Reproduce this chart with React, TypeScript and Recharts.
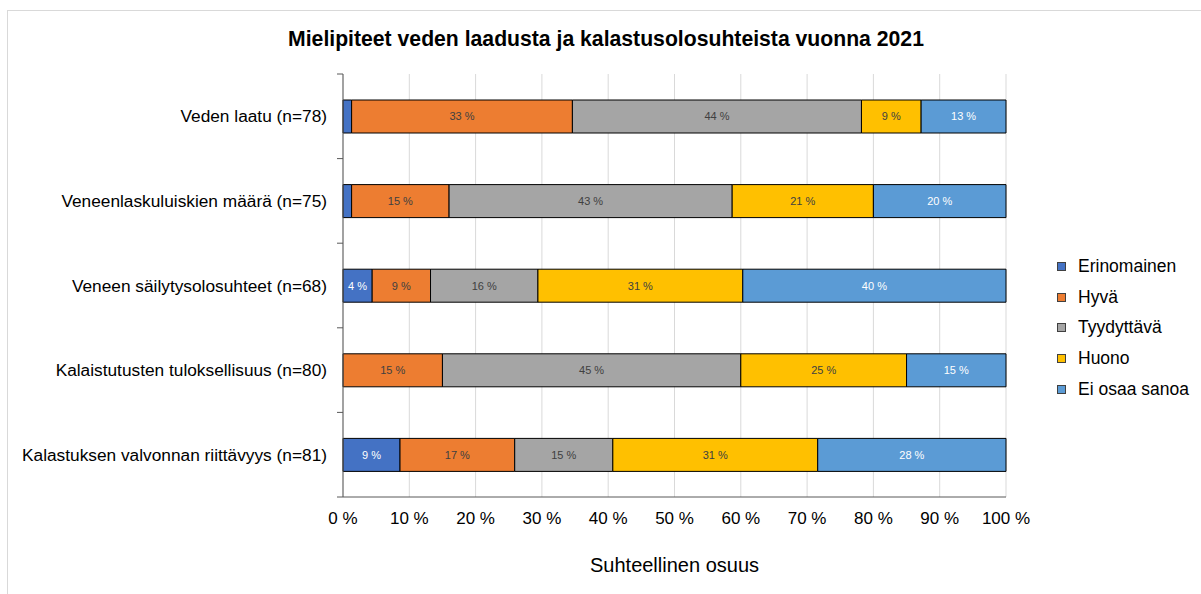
import React from 'react';
import { BarChart, Bar, XAxis, YAxis, CartesianGrid, LabelList } from 'recharts';

// kysymykset (n = vastaajat)
const categories = [
  'Veden laatu (n=78)',
  'Veneenlaskuluiskien määrä (n=75)',
  'Veneen säilytysolosuhteet (n=68)',
  'Kalaistutusten tuloksellisuus (n=80)',
  'Kalastuksen valvonnan riittävyys (n=81)',
];

const seriesNames = ['Erinomainen', 'Hyvä', 'Tyydyttävä', 'Huono', 'Ei osaa sanoa'];

// osuudet prosentteina
const erinomainen = [1.3, 1.3, 4.4, 0, 8.6];
const hyva = [33.3, 14.7, 8.8, 15.0, 17.3];
const tyydyttava = [43.6, 42.7, 16.2, 45.0, 14.8];
const huono = [9.0, 21.3, 30.9, 25.0, 30.9];
const eiOsaa = [12.8, 20.0, 39.7, 15.0, 28.4];

const xTicks = [0, 10, 20, 30, 40, 50, 60, 70, 80, 90, 100];

const colors = ['#4472C4', '#ED7D31', '#A5A5A5', '#FFC000', '#5B9BD5'];
const labelColors = ['#ffffff', '#404040', '#404040', '#404040', '#ffffff'];
const keys = ['e', 'h', 't', 'hu', 'eo'];

const data = categories.map((name, i) => ({
  name,
  e: erinomainen[i],
  h: hyva[i],
  t: tyydyttava[i],
  hu: huono[i],
  eo: eiOsaa[i],
}));

const FONT = '"Liberation Sans", Arial, sans-serif';
const BAND = (497 - 74) / categories.length;

const CategoryTick = (props: any) => {
  const { x, y, payload, index } = props;
  const ax = x + 6;
  return (
    <g>
      <line x1={ax - 6} x2={ax} y1={y - BAND / 2} y2={y - BAND / 2} stroke="#595959" />
      {index === categories.length - 1 && (
        <line x1={ax - 6} x2={ax} y1={y + BAND / 2} y2={y + BAND / 2} stroke="#595959" />
      )}
      <text x={x - 10} y={y} dy="0.35em" textAnchor="end" fill="#000" fontSize={17.3} fontFamily={FONT}>
        {payload.value}
      </text>
    </g>
  );
};

const makeLabel = (color: string) => (props: any) => {
  const { x, y, width, height, value } = props;
  if (value == null || value < 3) return null;
  return (
    <text
      x={x + width / 2}
      y={y + height / 2}
      dy="0.35em"
      textAnchor="middle"
      fill={color}
      fontSize={11}
      fontFamily={FONT}
    >
      {`${Math.round(value)} %`}
    </text>
  );
};

const LegendBox = () => (
  <div
    style={{
      position: 'absolute',
      left: 1057,
      top: 251,
      fontFamily: FONT,
      fontSize: 17.5,
      color: '#000',
    }}
  >
    {seriesNames.map((s, i) => (
      <div key={s} style={{ display: 'flex', alignItems: 'center', height: 30.8 }}>
        <span
          style={{
            display: 'inline-block',
            width: 7,
            height: 7,
            background: colors[i],
            border: '1px solid #404040',
            marginRight: 12,
          }}
        />
        {s}
      </div>
    ))}
  </div>
);

export default function App() {
  return (
    <div
      style={{
        position: 'absolute',
        left: 0,
        top: 0,
        width: 1201,
        height: 594,
        overflow: 'hidden',
        background: '#fff',
        fontFamily: FONT,
      }}
    >
      <div
        style={{
          position: 'absolute',
          left: 7,
          top: 10,
          width: 1200,
          height: 600,
          border: '1px solid #d9d9d9',
        }}
      />
      <div
        style={{
          position: 'absolute',
          left: 0,
          width: 1212,
          top: 27,
          textAlign: 'center',
          fontSize: 21.2,
          fontWeight: 'bold',
          color: '#000',
        }}
      >
        Mielipiteet veden laadusta ja kalastusolosuhteista vuonna 2021
      </div>
      <div
        style={{
          position: 'absolute',
          left: 343,
          width: 663,
          top: 554,
          textAlign: 'center',
          fontSize: 20,
          color: '#000',
        }}
      >
        Suhteellinen osuus
      </div>
      <div style={{ position: 'absolute', left: 0, top: 0 }}>
        <BarChart
          width={1201}
          height={594}
          data={data}
          layout="vertical"
          margin={{ top: 74, right: 195, bottom: 67, left: 0 }}
          barCategoryGap={0}
        >
          <CartesianGrid horizontal={false} stroke="#d9d9d9" />
          <XAxis
            type="number"
            domain={[0, 100]}
            ticks={xTicks}
            tickFormatter={(v: number) => `${v} %`}
            tickLine={false}
            tickMargin={9}
            axisLine={{ stroke: '#595959' }}
            tick={{ fill: '#000', fontSize: 17, fontFamily: FONT }}
            height={30}
            interval={0}
          />
          <XAxis
            xAxisId="top"
            orientation="top"
            type="number"
            domain={[0, 100]}
            tick={false}
            tickLine={false}
            height={0}
            axisLine={{ stroke: '#bfbfbf' }}
          />
          <YAxis
            type="category"
            dataKey="name"
            width={343}
            tickLine={false}
            tickMargin={0}
            axisLine={{ stroke: '#595959' }}
            tick={<CategoryTick />}
            interval={0}
          />
          {keys.map((k, i) => (
            <Bar
              key={k}
              dataKey={k}
              name={seriesNames[i]}
              stackId="a"
              fill={colors[i]}
              stroke="#000"
              strokeWidth={1}
              barSize={33}
              isAnimationActive={false}
            >
              <LabelList dataKey={k} content={makeLabel(labelColors[i])} />
            </Bar>
          ))}
        </BarChart>
      </div>
      <LegendBox />
    </div>
  );
}
